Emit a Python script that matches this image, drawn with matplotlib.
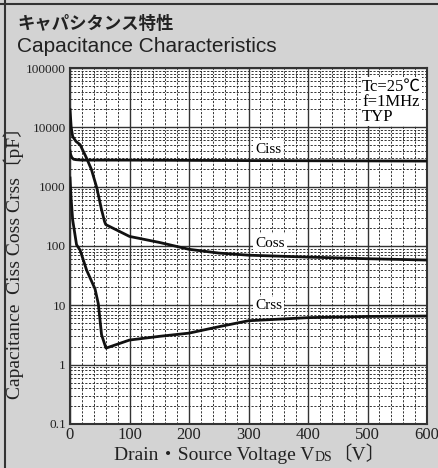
import matplotlib.pyplot as plt
from matplotlib.lines import Line2D
from matplotlib.ticker import FixedLocator, NullFormatter

# data (V, pF)
ciss_v = [0, 1, 3, 6, 10, 20, 100, 300, 600]
ciss_c = [4000, 3500, 3100, 2900, 2850, 2800, 2800, 2750, 2700]

coss_v = [0, 2, 4.5, 10, 17, 28, 36, 45, 53, 58, 60, 100, 150, 200, 250, 300, 400, 500, 600]
coss_c = [20000, 10000, 7000, 5800, 5100, 3000, 1950, 960, 410, 260, 230, 145, 115, 88, 76, 70, 65, 61, 58]

crss_v = [0, 2, 4.5, 11, 17, 28, 42, 47.5, 50.5, 53, 60.5, 100, 150, 200, 252, 300, 400, 500, 600]
crss_c = [1400, 600, 275, 105, 85, 39, 19, 10.7, 5.6, 3.2, 1.9, 2.6, 3.0, 3.4, 4.4, 5.5, 6.2, 6.5, 6.6]

y_ticks = [0.1, 1, 10, 100, 1000, 10000, 100000]
y_labels = ['0.1', '1', '10', '100', '1000', '10000', '100000']
x_ticks = [0, 100, 200, 300, 400, 500, 600]

serif = ['Liberation Serif', 'Noto Sans CJK JP']
bg = '#d3d3d3'
ink = '#222'

fig = plt.figure(figsize=(4.38, 4.68), dpi=100, facecolor=bg)
ax = fig.add_axes([70/438, 44/468, 357/438, 356/468])
ax.set_facecolor('white')

ax.semilogy(ciss_v, ciss_c, color='#111', lw=2.0, zorder=4)
ax.semilogy(coss_v, coss_c, color='#111', lw=2.0, zorder=4)
ax.semilogy(crss_v, crss_c, color='#111', lw=2.0, zorder=4)

ax.set_xlim(0, 600)
ax.set_ylim(0.1, 100000)

ax.set_xticks(x_ticks)
ax.set_xticklabels([str(t) for t in x_ticks], family=serif, fontsize=12, color=ink)
ax.xaxis.set_minor_locator(FixedLocator([v for v in range(0, 601, 20) if v % 100]))
ax.set_yticks(y_ticks)
ax.set_yticklabels(y_labels, family=serif, fontsize=9.5, color=ink)
minors = [m * 10.0 ** e for e in range(-1, 5) for m in range(2, 10)]
ax.yaxis.set_minor_locator(FixedLocator(minors))
ax.yaxis.set_minor_formatter(NullFormatter())
ax.tick_params(which='both', length=0)
ax.tick_params(axis='x', pad=2)
ax.tick_params(axis='y', pad=3)

ax.grid(which='major', color='#333', lw=1.0, ls='-')
ax.grid(which='minor', color='#333', lw=0.7, ls=(0, (2.2, 1.6)))
ax.set_axisbelow(True)
for s in ax.spines.values():
    s.set_color('#333')
    s.set_linewidth(1.5)

box = dict(facecolor='white', edgecolor='none', pad=1.5)
for name, yv in [('Ciss', 4300), ('Coss', 112), ('Crss', 10)]:
    ax.text(311, yv, name, family=serif, fontsize=11, va='center', ha='left', bbox=box, zorder=5)
ax.text(0.818, 0.97, 'Tc=25℃\nf=1MHz\nTYP', transform=ax.transAxes, family=serif,
        fontsize=12, va='top', ha='left', linespacing=0.92,
        bbox=dict(facecolor='white', edgecolor='none', pad=1.0), zorder=5)

# x label built from pieces so "DS" can be smaller
t1 = fig.text(114/438, 1 - 460/468, 'Drain・Source Voltage V', family=serif,
              fontsize=14, color=ink, va='baseline', ha='left')
t2 = ax.annotate('DS', xy=(1, 0), xycoords=t1, va='bottom', ha='left',
                 family=serif, fontsize=10, color=ink, annotation_clip=False)
ax.annotate('〔V〕', xy=(1, 0), xycoords=t2, va='bottom', ha='left',
            family=serif, fontsize=14, color=ink, annotation_clip=False)

ax.set_ylabel('Capacitance  Ciss Coss Crss〔pF〕', family=serif,
              fontsize=14, color=ink)
ax.yaxis.set_label_coords(-0.13, 0.465)

fig.text(17/438, 1 - 24/468, 'キャパシタンス特性', family=['Noto Sans CJK JP'],
         fontsize=12.5, fontweight='bold', color=ink, va='center', ha='left')
fig.text(17/438, 1 - 47/468, 'Capacitance Characteristics', family=['Liberation Sans'],
         fontsize=15, color=ink, va='center', ha='left')

fig.add_artist(Line2D([0, 1], [1 - 4/468, 1 - 4/468], color='#333', lw=1.5))
fig.add_artist(Line2D([5/438, 5/438], [0, 1], color='#333', lw=1.5))

fig.savefig('out.png', dpi=100, facecolor=bg)
